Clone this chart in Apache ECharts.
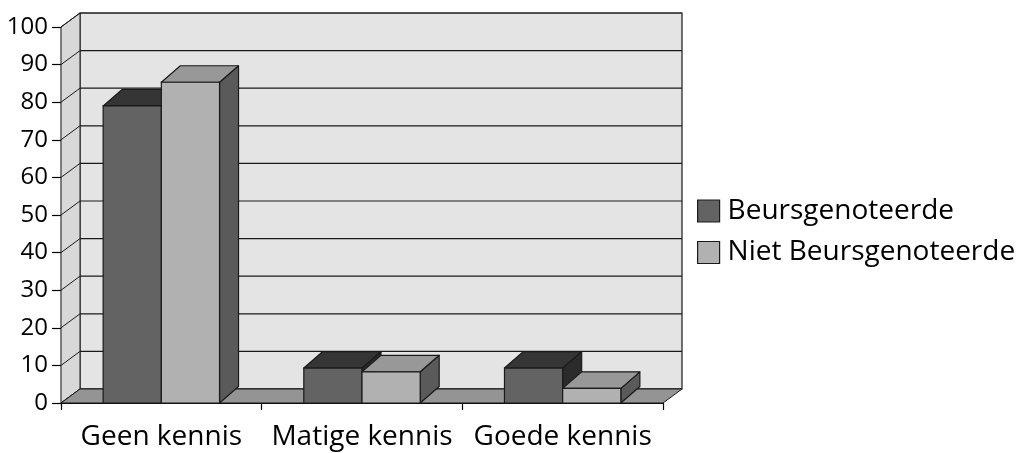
<!DOCTYPE html>
<html>
<head>
<meta charset="utf-8">
<style>
  html, body { margin: 0; padding: 0; background: #ffffff; }
  #chart { width: 1026px; height: 453px; }
</style>
<script src="https://cdn.jsdelivr.net/npm/echarts@6/dist/echarts.min.js"></script>
</head>
<body>
<div id="chart"></div>
<script>
// Kennisniveau per groep (percentages)
const categories = ['Geen kennis', 'Matige kennis', 'Goede kennis'];
const seriesNames = ['Beursgenoteerde', 'Niet Beursgenoteerde'];
const beursgenoteerd = [79, 9.3, 9.3];
const nietBeursgenoteerd = [85.3, 8.3, 3.9];
const yTicks = [0, 10, 20, 30, 40, 50, 60, 70, 80, 90, 100];

const FONT = '"Open Sans", "Noto Sans", sans-serif';

// depth offsets of the pseudo-3D box
const WALL_DX = 19, WALL_DY = -14;
const BAR_DX = 19, BAR_DY = -16.5;

// face colours: [front, top, side]
const faceColors = [
  ['#636363', '#353535', '#2b2b2b'],
  ['#b1b1b1', '#989898', '#5a5a5a']
];
const EDGE = '#1a1a1a';

function renderFrame(params, api) {
  const cs = params.coordSys;
  const x = cs.x, y = cs.y, w = cs.width, h = cs.height;
  const children = [];
  // back wall
  children.push({
    type: 'rect',
    shape: { x: x + WALL_DX, y: y + WALL_DY, width: w, height: h },
    style: { fill: '#e4e4e4', stroke: EDGE, lineWidth: 1.2 }
  });
  // left side wall
  children.push({
    type: 'polygon',
    shape: { points: [[x, y], [x + WALL_DX, y + WALL_DY], [x + WALL_DX, y + h + WALL_DY], [x, y + h]] },
    style: { fill: '#d8d8d8', stroke: EDGE, lineWidth: 1 }
  });
  // gridlines on back and side walls
  yTicks.forEach(function (t) {
    const yy = api.coord([0, t])[1];
    children.push({
      type: 'line',
      shape: { x1: x + WALL_DX, y1: yy + WALL_DY, x2: x + w + WALL_DX, y2: yy + WALL_DY },
      style: { stroke: EDGE, lineWidth: 1.2 }
    });
    children.push({
      type: 'line',
      shape: { x1: x, y1: yy, x2: x + WALL_DX, y2: yy + WALL_DY },
      style: { stroke: EDGE, lineWidth: 1 }
    });
  });
  // floor
  children.push({
    type: 'polygon',
    shape: { points: [[x, y + h], [x + w, y + h], [x + w + WALL_DX, y + h + WALL_DY], [x + WALL_DX, y + h + WALL_DY]] },
    style: { fill: '#949494', stroke: EDGE, lineWidth: 1 }
  });
  return { type: 'group', children: children };
}

function makeBarRenderer(sIdx) {
  return function (params, api) {
    const cat = api.value(0), v = api.value(1);
    const top = api.coord([cat, v]);
    const base = api.coord([cat, 0]);
    const band = api.size([1, 0])[0];
    const w = band * 0.29;
    const x0 = sIdx === 0 ? top[0] - w : top[0];
    const yt = top[1], yb = base[1];
    const c = faceColors[sIdx];
    return {
      type: 'group',
      children: [
        {
          type: 'polygon',
          shape: { points: [[x0 + w, yt], [x0 + w + BAR_DX, yt + BAR_DY], [x0 + w + BAR_DX, yb + BAR_DY], [x0 + w, yb]] },
          style: { fill: c[2], stroke: EDGE, lineWidth: 1.2, lineJoin: 'round' }
        },
        {
          type: 'polygon',
          shape: { points: [[x0, yt], [x0 + w, yt], [x0 + w + BAR_DX, yt + BAR_DY], [x0 + BAR_DX, yt + BAR_DY]] },
          style: { fill: c[1], stroke: EDGE, lineWidth: 1.2, lineJoin: 'round' }
        },
        {
          type: 'rect',
          shape: { x: x0, y: yt, width: w, height: yb - yt },
          style: { fill: c[0], stroke: EDGE, lineWidth: 1.2 }
        }
      ]
    };
  };
}

const chart = echarts.init(document.getElementById('chart'), null, { renderer: 'canvas' });

chart.setOption({
  animation: false,
  backgroundColor: '#ffffff',
  grid: { left: 61, right: 363, top: 27, bottom: 50, containLabel: false },
  legend: {
    orient: 'vertical',
    left: 697,
    top: 197,
    padding: 0,
    data: seriesNames,
    icon: 'rect',
    itemWidth: 22,
    itemHeight: 22,
    itemGap: 13.5,
    textStyle: { fontFamily: FONT, fontSize: 28, color: '#000', lineHeight: 28, padding: [0, 0, 0, 3] },
    itemStyle: { borderColor: '#1a1a1a', borderWidth: 1.2 }
  },
  xAxis: {
    type: 'category',
    data: categories,
    axisLine: { show: true, lineStyle: { color: '#000', width: 1.2 } },
    axisTick: { show: true, length: 7, lineStyle: { color: '#000', width: 1.2 } },
    axisLabel: { fontFamily: FONT, fontSize: 28, color: '#000', margin: 20, interval: 0, hideOverlap: false },
    splitLine: { show: false }
  },
  yAxis: {
    type: 'value',
    min: 0,
    max: 100,
    interval: 10,
    axisLine: { show: true, lineStyle: { color: '#000', width: 1.2 } },
    axisTick: { show: true, length: 9, lineStyle: { color: '#000', width: 1.2 } },
    axisLabel: { fontFamily: FONT, fontSize: 24, color: '#000', margin: 13 },
    splitLine: { show: false }
  },
  series: [
    {
      name: 'frame',
      type: 'custom',
      renderItem: renderFrame,
      data: [[0, 0]],
      encode: { x: 0, y: 1 },
      silent: true,
      z: 1
    },
    {
      name: seriesNames[0],
      type: 'custom',
      renderItem: makeBarRenderer(0),
      data: categories.map(function (c, i) { return [i, beursgenoteerd[i]]; }),
      encode: { x: 0, y: 1 },
      itemStyle: { color: faceColors[0][0] },
      z: 2
    },
    {
      name: seriesNames[1],
      type: 'custom',
      renderItem: makeBarRenderer(1),
      data: categories.map(function (c, i) { return [i, nietBeursgenoteerd[i]]; }),
      encode: { x: 0, y: 1 },
      itemStyle: { color: faceColors[1][0] },
      z: 3
    }
  ]
});
</script>
</body>
</html>
